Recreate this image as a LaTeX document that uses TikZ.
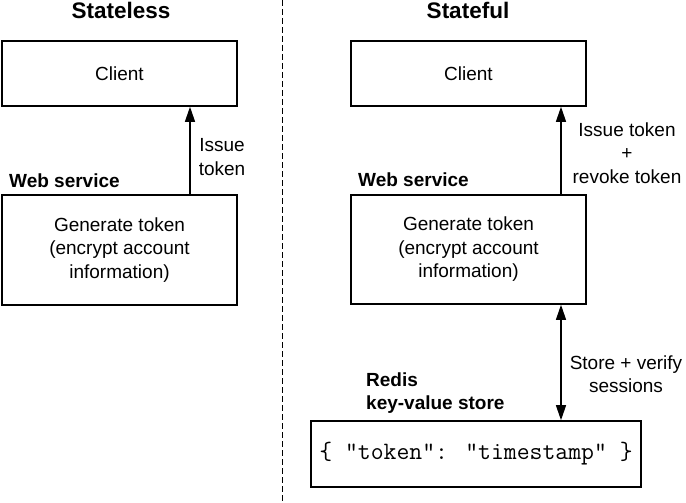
\documentclass[tikz,border=0pt]{standalone}
\usepackage{fontspec}
\setmainfont{Liberation Sans}
\usetikzlibrary{arrows.meta}
\begin{document}
\begin{tikzpicture}[x=1pt,y=-1pt,
  box/.style={draw,line width=1.6pt,inner sep=0pt,align=center,font=\bodyfont},
  lbl/.style={inner sep=0pt,align=center,font=\bodyfont},
  head/.style={inner sep=0pt,font=\fontsize{22.5}{27}\selectfont\bfseries},
  bold/.style={inner sep=0pt,align=left,font=\bodyfont\bfseries},
  arr/.style={line width=1.3pt,-{Triangle[length=15pt,width=10pt]}},
  darr/.style={line width=1.3pt,{Triangle[length=15pt,width=10pt]}-{Triangle[length=15pt,width=10pt]}},
  sep/.style={line width=1pt,dash pattern=on 6pt off 3pt}]
\providecommand\bodyfont{\fontsize{19}{23.5}\selectfont}
\useasboundingbox (0,0) rectangle (686,503);
% separator
\coordinate (st) at (282,0);
\coordinate (sb) at (282,503);
\draw[sep] (st) -- (sb);
% left
\node[head,anchor=base] (tl) at (121,19) {Stateless};
\node[box,minimum width=235pt,minimum height=65pt] (lcli) at (119.5,73.5) {Client};
\node[box,minimum width=235pt,minimum height=110pt] (lweb) at (119.5,250) {Generate token\\(encrypt account\\information)};
\node[bold,anchor=base west] (lws) at (9,187) {Web service};
\coordinate (la) at (190,0);
\draw[arr] (la |- lweb.north) -- (la |- lcli.south);
\node[lbl] (lil) at (222,157) {Issue\\token};
% right
\node[head,anchor=base] (tr) at (468,19) {Stateful};
\node[box,minimum width=235pt,minimum height=65pt] (rcli) at (468.5,73.5) {Client};
\node[box,minimum width=235pt,minimum height=109pt] (rweb) at (468.5,249.5) {Generate token\\(encrypt account\\information)};
\node[bold,anchor=base west] (rws) at (358,186) {Web service};
\coordinate (ra) at (561,0);
\draw[arr] (ra |- rweb.north) -- (ra |- rcli.south);
\node[lbl] (ril) at (627,153) {Issue token\\+\\revoke token};
\node[box,minimum width=330pt,minimum height=66pt,font=\fontsize{25}{30}\selectfont\ttfamily] (red) at (476,454) {\{ "token": "timestamp" \}};
\draw[darr] (ra |- rweb.south) -- (ra |- red.north);
\node[lbl] (svl) at (626,374) {Store + verify\\sessions};
\node[bold,anchor=west] (rl) at (366,393) {Redis\\key-value store};
\end{tikzpicture}
\end{document}
